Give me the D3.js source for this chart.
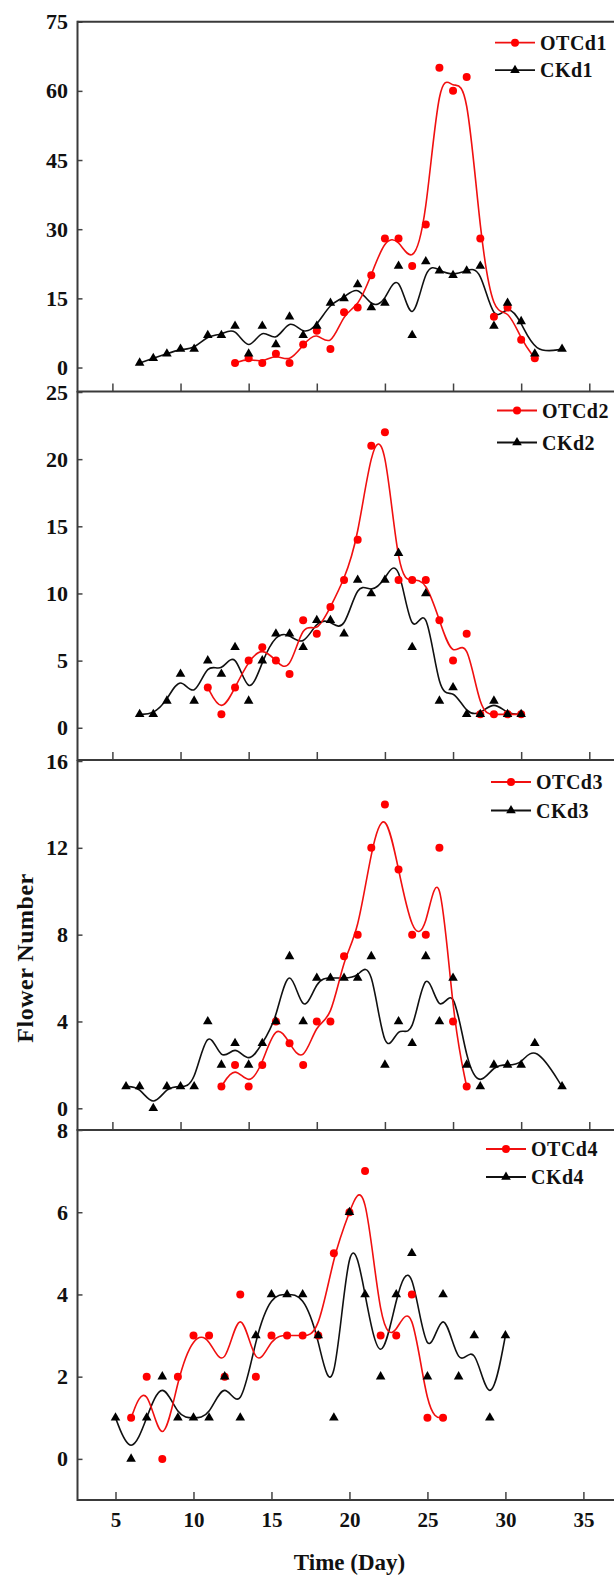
<!DOCTYPE html>
<html>
<head>
<meta charset="utf-8">
<script src="https://cdn.jsdelivr.net/npm/d3@7"></script>
<style>
  body { margin: 0; background: #fff; }
  svg { display: block; }
  text { font-family: "Liberation Serif", "Times New Roman", serif; font-weight: bold; fill: #111; }
</style>
</head>
<body>
<script>
var W = 614, H = 1575;

// day numbers and flower counts, one pair of arrays per series
var otc1Days = [14,15,16,17,18,19,20,21,22,23,24,25,26,27,28,29,30,31,32,33,34,35,36];
var otc1Vals = [1,2,1,3,1,5,8,4,12,13,20,28,28,22,31,65,60,63,28,11,13,6,2];
var ck1Days = [7,8,9,10,11,12,13,14,15,16,17,18,19,20,21,22,23,24,25,26,27,28,29,30,31,32,33,34,35,36,38];
var ck1Vals = [1,2,3,4,4,7,7,9,3,9,5,11,7,9,14,15,18,13,14,22,7,23,21,20,21,22,9,14,10,3,4];

var otc2Days = [12,13,14,15,16,17,18,19,20,21,22,23,24,25,26,27,28,29,30,31,32,33,34,35];
var otc2Vals = [3,1,3,5,6,5,4,8,7,9,11,14,21,22,11,11,11,8,5,7,1,1,1,1];
var ck2Days = [7,8,9,10,11,12,13,14,15,16,17,18,19,20,21,22,23,24,25,26,27,28,29,30,31,32,33,34,35];
var ck2Vals = [1,1,2,4,2,5,4,6,2,5,7,7,6,8,8,7,11,10,11,13,6,10,2,3,1,1,2,1,1];

var otc3Days = [13,14,15,16,17,18,19,20,21,22,23,24,25,26,27,28,29,30,31];
var otc3Vals = [1,2,1,2,4,3,2,4,4,7,8,12,14,11,8,8,12,4,1];
var ck3Days = [6,7,8,9,10,11,12,13,14,15,16,17,18,19,20,21,22,23,24,25,26,27,28,29,30,31,32,33,34,35,36,38];
var ck3Vals = [1,1,0,1,1,1,4,2,3,2,3,4,7,4,6,6,6,6,7,2,4,3,7,4,6,2,1,2,2,2,3,1];

var otc4Days = [6,7,8,9,10,11,12,13,14,15,16,17,18,19,20,21,22,23,24,25,26];
var otc4Vals = [1,2,0,2,3,3,2,4,2,3,3,3,3,5,6,7,3,3,4,1,1];
var ck4Days = [5,6,7,8,9,10,11,12,13,14,15,16,17,18,19,20,21,22,23,24,25,26,27,28,29,30];
var ck4Vals = [1,0,1,2,1,1,1,2,1,3,4,4,4,3,1,6,4,2,4,5,2,4,2,3,1,3];

var xTicks = [5,10,15,20,25,30,35,40];
var xTicksLabeled = [5,10,15,20,25,30,35];
var yTicks1 = [0,15,30,45,60,75];
var yTicks2 = [0,5,10,15,20,25];
var yTicks3 = [0,4,8,12,16];
var yTicks4 = [0,2,4,6,8];

var otcNames = ["OTCd1","OTCd2","OTCd3","OTCd4"];
var ckNames = ["CKd1","CKd2","CKd3","CKd4"];

function zip(days, vals) { return days.map(function (d, i) { return {x: d, y: vals[i]}; }); }

var axisX = 77.5;
var panels = [
  {otc: zip(otc1Days, otc1Vals), ck: zip(ck1Days, ck1Vals), yDom: [-5.2, 75], top: 21.7, bottom: 391.5, yTicks: yTicks1, legX: 495, legY: 42.7, legDy: 27.5},
  {otc: zip(otc2Days, otc2Vals), ck: zip(ck2Days, ck2Vals), yDom: [-2.4, 25], top: 392, bottom: 760, yTicks: yTicks2, legX: 497, legY: 410.5, legDy: 32},
  {otc: zip(otc3Days, otc3Vals), ck: zip(ck3Days, ck3Vals), yDom: [-1, 16], top: 761, bottom: 1130, yTicks: yTicks3, legX: 491, legY: 782, legDy: 28.5},
  {otc: zip(otc4Days, otc4Vals), ck: zip(ck4Days, ck4Vals), yDom: [-1, 8], top: 1130, bottom: 1500, yTicks: yTicks4, legX: 486, legY: 1149, legDy: 28}
];

// the upper three panels share one x scale, the bottom one has its own
var xUpper = d3.scaleLinear().domain([5, 40]).range([112.4, 589.3]);
var xLower = d3.scaleLinear().domain([5, 35]).range([115.5, 583.4]);

var svg = d3.select("body").append("svg")
    .attr("width", W)
    .attr("height", H);

var tri = d3.symbol().type(d3.symbolTriangle).size(40);

panels.forEach(function (p, i) {
  var x = i < 3 ? xUpper : xLower;
  var y = d3.scaleLinear().domain(p.yDom).range([p.bottom, p.top]);
  var g = svg.append("g");

  // x axis ticks (pointing inward), labels only on the bottom panel
  var xa = d3.axisBottom(x).tickValues(i < 3 ? xTicks : xTicksLabeled)
      .tickSize(-8).tickSizeOuter(0).tickPadding(12);
  if (i < 3) xa.tickFormat("");
  var gx = g.append("g").attr("transform", "translate(0," + p.bottom + ")").call(xa);
  gx.select(".domain").remove();
  gx.selectAll(".tick line").attr("stroke", "#444").attr("stroke-width", 1.5);
  gx.selectAll("text").style("font-size", "21px").attr("fill", "#111");

  var ya = d3.axisLeft(y).tickValues(p.yTicks).tickSize(-5).tickSizeOuter(0).tickPadding(9.5);
  var gy = g.append("g").attr("transform", "translate(" + axisX + ",0)").call(ya);
  gy.select(".domain").remove();
  gy.selectAll(".tick line").attr("stroke", "#444").attr("stroke-width", 1.5);
  gy.selectAll("text").style("font-size", "22px").attr("fill", "#111");

  // frame lines
  g.append("line").attr("x1", axisX).attr("x2", W).attr("y1", p.bottom).attr("y2", p.bottom)
      .attr("stroke", "#3a3a3a").attr("stroke-width", 2.2);
  if (i === 0) {
    g.append("line").attr("x1", axisX).attr("x2", W).attr("y1", p.top).attr("y2", p.top)
        .attr("stroke", "#3a3a3a").attr("stroke-width", 2);
  }
  g.append("line").attr("x1", axisX).attr("x2", axisX).attr("y1", p.top - 1).attr("y2", p.bottom + 1)
      .attr("stroke", "#3a3a3a").attr("stroke-width", 2);

  var line = d3.line().curve(d3.curveBasis)
      .x(function (d) { return x(d.x); })
      .y(function (d) { return y(d.y); });

  g.append("path").datum(p.ck).attr("d", line)
      .attr("fill", "none").attr("stroke", "#111").attr("stroke-width", 1.6);
  g.append("path").datum(p.otc).attr("d", line)
      .attr("fill", "none").attr("stroke", "#f01010").attr("stroke-width", 1.6);

  g.selectAll(".otc").data(p.otc).enter().append("circle")
      .attr("cx", function (d) { return x(d.x); })
      .attr("cy", function (d) { return y(d.y); })
      .attr("r", 4).attr("fill", "#ff0000");
  g.selectAll(".ck").data(p.ck).enter().append("path")
      .attr("d", tri)
      .attr("transform", function (d) { return "translate(" + x(d.x) + "," + y(d.y) + ")"; })
      .attr("fill", "#000");

  // legend
  var lg = g.append("g").attr("transform", "translate(" + p.legX + "," + p.legY + ")");
  lg.append("line").attr("x1", 0).attr("x2", 40).attr("y1", 0).attr("y2", 0)
      .attr("stroke", "#f01010").attr("stroke-width", 1.8);
  lg.append("circle").attr("cx", 20).attr("cy", 0).attr("r", 4).attr("fill", "#ff0000");
  lg.append("text").attr("x", 45).attr("y", 0).attr("dy", "0.35em")
      .style("font-size", "20px").style("letter-spacing", "0.5px").text(otcNames[i]);
  lg.append("line").attr("x1", 0).attr("x2", 40).attr("y1", p.legDy).attr("y2", p.legDy)
      .attr("stroke", "#111").attr("stroke-width", 1.8);
  lg.append("path").attr("d", tri).attr("transform", "translate(20," + p.legDy + ")").attr("fill", "#000");
  lg.append("text").attr("x", 45).attr("y", p.legDy).attr("dy", "0.35em")
      .style("font-size", "20px").style("letter-spacing", "0.5px").text(ckNames[i]);
});

svg.append("text")
    .attr("x", 349.5).attr("y", 1562).attr("dy", "0.35em")
    .attr("text-anchor", "middle")
    .style("font-size", "23px")
    .text("Time (Day)");

svg.append("text")
    .attr("transform", "translate(25,958) rotate(-90)")
    .attr("dy", "0.35em")
    .attr("text-anchor", "middle")
    .style("font-size", "24px")
    .style("letter-spacing", "0.5px")
    .text("Flower Number");
</script>
</body>
</html>
